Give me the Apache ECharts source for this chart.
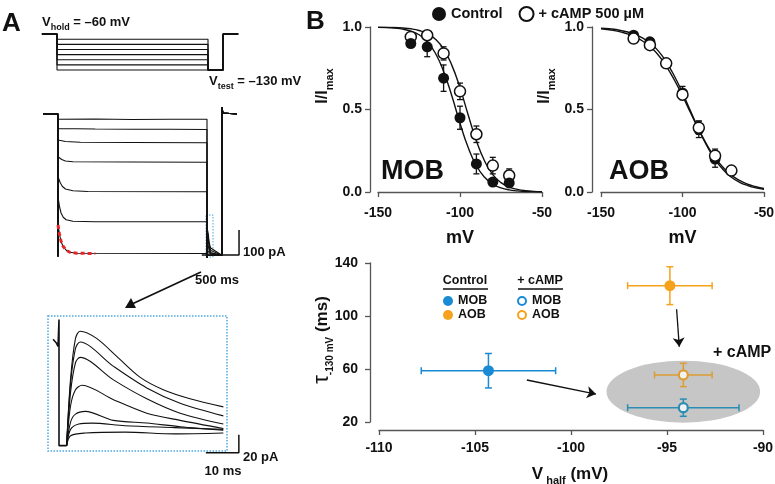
<!DOCTYPE html>
<html>
<head>
<meta charset="utf-8">
<script src="https://cdn.jsdelivr.net/npm/echarts@6/dist/echarts.min.js"></script>
<style>
  html, body { margin: 0; padding: 0; background: #fff; }
  #main { width: 775px; height: 484px; }
</style>
</head>
<body>
<div id="main"></div>
<script>
// ---------- data ----------
// A: voltage protocol (mV) and step timing (ms)
const vHold = -60
const vTest = -130
const stepLevels = [-70, -80, -90, -100, -110, -120, -130]
const stepTimes = [-200, 0, 2000, 2200, 2400]

// A: current traces during the prepulse, [ms, pA]
const trace1 = [[0, -21], [500, -20], [1000, -22], [1500, -21], [2000, -21]]
const trace2 = [[0, -58], [500, -60], [1000, -61], [1500, -61], [2000, -62]]
const trace3 = [[0, -104], [100, -110], [300, -113], [1000, -114], [2000, -115]]
const trace4 = [[0, -171], [50, -182], [100, -188], [200, -191], [1000, -192], [2000, -193]]
const trace5 = [[0, -251], [30, -275], [60, -290], [100, -300], [200, -307], [400, -310], [2000, -311]]
const trace6 = [[0, -331], [20, -370], [40, -395], [70, -413], [110, -423], [200, -429], [500, -431], [2000, -431]]
const trace7 = [[0, -444], [20, -480], [40, -510], [70, -530], [110, -545], [160, -553], [250, -557], [2000, -558]]
const fitTrace7 = [[0, -444], [20, -480], [40, -508], [70, -530], [110, -545], [160, -553], [250, -557], [500, -558]]
const tailBase = -565

// A inset: tail currents at -130 mV, [ms, pA]
const insetJump = [[-1.8, 104], [-0.8, 100], [-0.3, 96], [0, 126], [0, -14], [2.3, -14]]
const tail1 = [[2.3, -14], [3.5, 60], [5, 105], [6.4, 113], [11.4, 105], [17.5, 85], [24.5, 62], [31.6, 48], [39.7, 38], [49.8, 29]]
const tail2 = [[2.3, -14], [3.5, 55], [5, 94], [6.4, 101], [16.5, 74], [26.6, 50], [36.7, 33], [49.8, 19]]
const tail3 = [[2.3, -14], [3.5, 45], [5, 78], [6.4, 84], [16.5, 59], [26.6, 38], [36.7, 22], [49.8, 10]]
const tail4 = [[2.3, -14], [3.5, 30], [5, 48], [7, 53], [16.5, 37], [26.6, 22], [36.7, 14], [49.8, 5]]
const tail5 = [[2.3, -14], [3.5, 12], [5, 21], [8, 24], [16.5, 14], [26.6, 11], [36.7, 7], [49.8, 3]]
const tail6 = [[2.3, -14], [3.5, 4], [6, 10], [10, 11], [20, 8], [35, 6], [49.8, 4]]
const tail7 = [[2.3, -14], [3.5, -3], [8, 0], [20, 1], [35, -1], [49.8, 0]]

// scale bars
const scaleBarMain = [[1930, -564], [2430, -564], [2430, -464]]
const scaleBarInset = [[44.5, -22], [54.5, -22], [54.5, -2]]

// B: activation curves (I/Imax)
const vSteps = [-130, -120, -110, -100, -90, -80, -70]
const mobCtrl = [0.90, 0.88, 0.69, 0.45, 0.17, 0.06, 0.055]
const mobCtrlErr = [0.02, 0.06, 0.08, 0.07, 0.06, 0.02, 0.02]
const mobCamp = [0.94, 0.95, 0.84, 0.61, 0.35, 0.16, 0.10]
const mobCampErr = [0.02, 0.01, 0.04, 0.05, 0.05, 0.05, 0.04]
const aobCtrl = [0.95, 0.91, 0.78, 0.60, 0.38, 0.20, 0.13]
const aobCtrlErr = [0.02, 0.02, 0.02, 0.04, 0.05, 0.05, 0.02]
const aobCamp = [0.93, 0.89, 0.78, 0.59, 0.39, 0.22, 0.13]
const aobCampErr = [0.02, 0.02, 0.02, 0.03, 0.04, 0.04, 0.02]

// fitted curves, read every 5 mV from -150 to -50
const fitV = [-150, -145, -140, -135, -130, -125, -120, -115, -110, -105, -100, -95, -90, -85, -80, -75, -70, -65, -60, -55, -50]
const fitMobCtrl = [0.998, 0.997, 0.993, 0.987, 0.975, 0.953, 0.911, 0.841, 0.731, 0.583, 0.417, 0.269, 0.159, 0.089, 0.047, 0.025, 0.013, 0.007, 0.003, 0.002, 0.001]
const fitMobCamp = [0.999, 0.998, 0.997, 0.994, 0.989, 0.979, 0.961, 0.926, 0.866, 0.769, 0.631, 0.467, 0.31, 0.188, 0.105, 0.057, 0.03, 0.016, 0.008, 0.004, 0.002]
const fitAobCtrl = [0.993, 0.989, 0.983, 0.973, 0.958, 0.936, 0.903, 0.857, 0.789, 0.703, 0.601, 0.489, 0.378, 0.279, 0.196, 0.135, 0.089, 0.059, 0.039, 0.025, 0.016]
const fitAobCamp = [0.989, 0.983, 0.975, 0.962, 0.944, 0.918, 0.881, 0.832, 0.763, 0.679, 0.583, 0.479, 0.378, 0.286, 0.208, 0.148, 0.102, 0.07, 0.047, 0.032, 0.021]

// B bottom: tau vs V half, [MOB, AOB]
const vhalfCtrl = [-104.3, -94.85]
const vhalfCtrlErr = [3.5, 2.2]
const tauCtrl = [58.7, 122.9]
const tauCtrlErr = [13, 14.3]
const vhalfCamp = [-94.15, -94.15]
const vhalfCampErr = [2.9, 1.5]
const tauCamp = [30.8, 55.5]
const tauCampErr = [6.5, 8.8]
const campEllipse = [-94.15, 42.9, 4.0, 23.4]   // cx, cy, rx, ry
const arrowMob = [[-102.3, 51.7], [-98.7, 41.1]]
const arrowAob = [[-94.5, 105.1], [-94.36, 76.8]]

// ---------- helpers ----------
const FONT = '"Liberation Sans", Arial, sans-serif'
const AX = '#555'
const BLUE = '#1a8ad4', ORANGE = '#f6a21d', TEAL = '#2b8db3', GOLD = '#dd9d35'

const zip = (xs, ys) => xs.map((x, i) => [x, ys[i]])

function errItem(color, cap, lw) {
  return function (params, api) {
    const x = api.value(0), y = api.value(1), ex = api.value(2), ey = api.value(3)
    const st = { stroke: color, lineWidth: lw, fill: null }
    const kids = []
    if (ey > 0) {
      const t = api.coord([x, y + ey]), b = api.coord([x, y - ey])
      kids.push({ type: 'line', shape: { x1: t[0], y1: t[1], x2: b[0], y2: b[1] }, style: st })
      kids.push({ type: 'line', shape: { x1: t[0] - cap, y1: t[1], x2: t[0] + cap, y2: t[1] }, style: st })
      kids.push({ type: 'line', shape: { x1: b[0] - cap, y1: b[1], x2: b[0] + cap, y2: b[1] }, style: st })
    }
    if (ex > 0) {
      const l = api.coord([x - ex, y]), r = api.coord([x + ex, y])
      kids.push({ type: 'line', shape: { x1: l[0], y1: l[1], x2: r[0], y2: r[1] }, style: st })
      kids.push({ type: 'line', shape: { x1: l[0], y1: l[1] - cap, x2: l[0], y2: l[1] + cap }, style: st })
      kids.push({ type: 'line', shape: { x1: r[0], y1: r[1] - cap, x2: r[0], y2: r[1] + cap }, style: st })
    }
    return { type: 'group', children: kids }
  }
}

function hiddenAxis(min, max) {
  return { type: 'value', show: false, min: min, max: max, splitLine: { show: false } }
}

function shownX(min, max, interval, offset, name, nameGap) {
  return {
    type: 'value', min: min, max: max, interval: interval, offset: offset,
    axisLine: { lineStyle: { color: AX, width: 1.3 } },
    axisTick: { length: 5, lineStyle: { color: AX, width: 1.3 } },
    axisLabel: { fontSize: 14, fontWeight: 'bold', fontFamily: FONT, color: '#111', margin: 7, showMinLabel: true, showMaxLabel: true },
    splitLine: { show: false },
    name: name, nameLocation: 'middle', nameGap: nameGap,
    nameTextStyle: { fontSize: 18, fontWeight: 'bold', fontFamily: FONT, color: '#111' }
  }
}

const lineBlack = { color: '#111', width: 1.1 }

// ---------- series ----------
const series = []

// protocol
stepLevels.forEach(function (lv) {
  series.push({
    type: 'line', xAxisIndex: 0, yAxisIndex: 0, showSymbol: false, silent: true,
    lineStyle: lineBlack,
    data: [[stepTimes[0], vHold], [stepTimes[1], vHold], [stepTimes[1], lv], [stepTimes[2], lv],
           [stepTimes[2], vTest], [stepTimes[3], vTest], [stepTimes[3], vHold], [stepTimes[4], vHold]]
  })
})

// traces
const prepulse = [trace1, trace2, trace3, trace4, trace5, trace6, trace7]
const tails = [tail1, tail2, tail3, tail4, tail5, tail6, tail7]
prepulse.forEach(function (tr, i) {
  const tailPts = tails[i].map(p => [stepTimes[2] + p[0], tailBase + p[1]])
  const pts = [[stepTimes[0], 0], [0, 0], [0, -570]].concat(tr)
    .concat([[stepTimes[2], -575]]).concat(tailPts)
    .concat([[stepTimes[3], tailBase], [stepTimes[3], 28], [2215, 4], [stepTimes[4], 0]])
  series.push({
    type: 'line', xAxisIndex: 1, yAxisIndex: 1, showSymbol: false, silent: true,
    lineStyle: { color: '#111', width: 1.1 }, data: pts
  })
})
series.push({
  type: 'line', xAxisIndex: 1, yAxisIndex: 1, showSymbol: false, silent: true, z: 5,
  lineStyle: { color: '#e8262a', width: 3, type: [4, 3] }, data: fitTrace7
})
series.push({
  type: 'line', xAxisIndex: 1, yAxisIndex: 1, showSymbol: false, silent: true,
  lineStyle: { color: '#111', width: 1.5 }, data: scaleBarMain
})

// inset
series.push({
  type: 'line', xAxisIndex: 2, yAxisIndex: 2, showSymbol: false, silent: true,
  lineStyle: { color: '#111', width: 1.6 }, data: insetJump
})
tails.forEach(function (tr) {
  series.push({
    type: 'line', xAxisIndex: 2, yAxisIndex: 2, showSymbol: false, silent: true, smooth: 0.3,
    lineStyle: { color: '#111', width: 1.1 }, data: tr
  })
})
series.push({
  type: 'line', xAxisIndex: 2, yAxisIndex: 2, showSymbol: false, silent: true,
  lineStyle: { color: '#111', width: 1.5 }, data: scaleBarInset
})

// activation curves
function activationSeries(ax, ctrl, ctrlErr, camp, campErr, fitC, fitA, campOnTop) {
  const list = []
  list.push({ type: 'line', xAxisIndex: ax, yAxisIndex: ax, showSymbol: false, smooth: true, silent: true,
    lineStyle: { color: '#111', width: 1.4 }, data: zip(fitV, fitC), z: 1 })
  list.push({ type: 'line', xAxisIndex: ax, yAxisIndex: ax, showSymbol: false, smooth: true, silent: true,
    lineStyle: { color: '#111', width: 1.4 }, data: zip(fitV, fitA), z: 1 })
  list.push({ type: 'custom', xAxisIndex: ax, yAxisIndex: ax, renderItem: errItem('#111', 3, 1.3), z: 2,
    encode: { x: 0, y: 1 }, data: vSteps.map((v, i) => [v, ctrl[i], 0, ctrlErr[i]]) })
  list.push({ type: 'custom', xAxisIndex: ax, yAxisIndex: ax, renderItem: errItem('#111', 3, 1.3), z: 2,
    encode: { x: 0, y: 1 }, data: vSteps.map((v, i) => [v, camp[i], 0, campErr[i]]) })
  const c = { name: 'Control', type: 'scatter', xAxisIndex: ax, yAxisIndex: ax, symbolSize: 11,
    itemStyle: { color: '#111', opacity: 1 }, data: zip(vSteps, ctrl), z: campOnTop ? 3 : 4 }
  const a = { name: '+ cAMP 500 µM', type: 'scatter', xAxisIndex: ax, yAxisIndex: ax, symbolSize: 11,
    itemStyle: { color: '#fff', borderColor: '#111', borderWidth: 1.5, opacity: 1 }, data: zip(vSteps, camp), z: campOnTop ? 4 : 3 }
  list.push(c, a)
  return list
}
series.push(...activationSeries(3, mobCtrl, mobCtrlErr, mobCamp, mobCampErr, fitMobCtrl, fitMobCamp, false))
series.push(...activationSeries(4, aobCtrl, aobCtrlErr, aobCamp, aobCampErr, fitAobCtrl, fitAobCamp, true))

// tau vs V half
series.push({
  type: 'custom', xAxisIndex: 5, yAxisIndex: 5, z: 1, silent: true, encode: { x: 0, y: 1 },
  renderItem: function (params, api) {
    const c = api.coord([api.value(0), api.value(1)])
    const e = api.coord([api.value(0) + api.value(2), api.value(1) + api.value(3)])
    const rx = Math.abs(e[0] - c[0]), ry = Math.abs(e[1] - c[1])
    return { type: 'circle', x: c[0], y: c[1], scaleY: ry / rx, shape: { cx: 0, cy: 0, r: rx }, style: { fill: '#c6c6c6' } }
  },
  data: [campEllipse]
})
const tauSets = [
  { vx: vhalfCtrl, ex: vhalfCtrlErr, ty: tauCtrl, ey: tauCtrlErr, colors: [BLUE, ORANGE], open: false },
  { vx: vhalfCamp, ex: vhalfCampErr, ty: tauCamp, ey: tauCampErr, colors: [TEAL, GOLD], open: true }
]
tauSets.forEach(function (s) {
  s.colors.forEach(function (col, i) {
    series.push({ type: 'custom', xAxisIndex: 5, yAxisIndex: 5, z: 2, encode: { x: 0, y: 1 },
      renderItem: errItem(col, 3.5, 1.5), data: [[s.vx[i], s.ty[i], s.ex[i], s.ey[i]]] })
    series.push({ type: 'scatter', xAxisIndex: 5, yAxisIndex: 5, z: 3,
      symbolSize: s.open ? 9 : 11,
      itemStyle: s.open ? { color: '#f2f2f2', borderColor: col, borderWidth: 2.2, opacity: 1 } : { color: col, opacity: 1 },
      data: [[s.vx[i], s.ty[i]]] })
  })
})
series.push({
  type: 'line', xAxisIndex: 5, yAxisIndex: 5, data: [], silent: true,
  markLine: {
    silent: true, symbol: ['none', 'arrow'], symbolSize: 9, label: { show: false },
    lineStyle: { color: '#111', width: 1.3, type: 'solid' },
    data: [
      [{ coord: arrowMob[0] }, { coord: arrowMob[1] }],
      [{ coord: arrowAob[0] }, { coord: arrowAob[1] }]
    ]
  }
})

// ---------- text & frames ----------
function txt(x, y, text, size, align, extra) {
  return Object.assign({
    type: 'text', x: x, y: y, silent: true,
    style: Object.assign({ text: text, fontSize: size, fontWeight: 'bold', fontFamily: FONT, fill: '#111',
      align: align || 'left', verticalAlign: 'middle' }, extra || {})
  })
}
const subRich = function (big, small) {
  return {
    a: { fontSize: big, fontWeight: 'bold', fontFamily: FONT, fill: '#111', lineHeight: big + 8, verticalAlign: 'middle' },
    b: { fontSize: small, fontWeight: 'bold', fontFamily: FONT, fill: '#111', lineHeight: small, verticalAlign: 'bottom' }
  }
}

const graphics = [
  txt(2, 24, 'A', 26),
  txt(306, 22, 'B', 26),
  txt(42, 22, '{a|V}{b|hold}{a| = –60 mV}', 13, 'left', { rich: subRich(13, 9) }),
  txt(209, 81, '{a|V}{b|test}{a| = –130 mV}', 13, 'left', { rich: subRich(13, 9) }),
  txt(243, 252, '100 pA', 13),
  txt(217, 280, '500 ms', 13, 'center'),
  txt(243, 457, '20 pA', 13),
  txt(223, 471, '10 ms', 13, 'center'),
  { type: 'rect', silent: true, shape: { x: 206, y: 215, width: 7, height: 42 },
    style: { fill: null, stroke: '#4aa8e0', lineWidth: 1, lineDash: [1.5, 1.5] } },
  { type: 'rect', silent: true, shape: { x: 48, y: 316, width: 179, height: 135 },
    style: { fill: null, stroke: '#4aa8e0', lineWidth: 1.5, lineDash: [1.5, 1.5] } },
  { type: 'line', silent: true, shape: { x1: 201, y1: 272, x2: 132, y2: 304 }, style: { stroke: '#111', lineWidth: 1.8 } },
  { type: 'polygon', silent: true, shape: { points: [[125, 308], [131, 298], [136, 308]] }, style: { fill: '#111' } },
  // B labels
  Object.assign(txt(323, 86, '{a|I/I}{b|max}', 16, 'center', { rich: subRich(16, 11) }), { rotation: Math.PI / 2 }),
  Object.assign(txt(545, 86, '{a|I/I}{b|max}', 16, 'center', { rich: subRich(16, 11) }), { rotation: Math.PI / 2 }),
  txt(381, 172, 'MOB', 27),
  txt(609, 172, 'AOB', 27),
  txt(713, 353, '+ cAMP', 16),
  Object.assign(txt(322, 340, '{t|τ}{b|-130 mV}{a| (ms)}', 17, 'center', {
    rich: {
      t: { fontSize: 22, fontFamily: FONT, fill: '#111', lineHeight: 26, verticalAlign: 'middle' },
      a: { fontSize: 17, fontWeight: 'bold', fontFamily: FONT, fill: '#111', lineHeight: 26, verticalAlign: 'middle' },
      b: { fontSize: 10, fontWeight: 'bold', fontFamily: FONT, fill: '#111', lineHeight: 10, verticalAlign: 'bottom' }
    }
  }), { rotation: Math.PI / 2 }),
  txt(570, 474, '{a|V}{b| half}{a| (mV)}', 17, 'center', { rich: subRich(17, 11) }),
  // inner legend of the tau plot
  txt(465, 281, 'Control', 12.5, 'center'),
  txt(540, 281, '+ cAMP', 12.5, 'center'),
  { type: 'line', silent: true, shape: { x1: 443, y1: 289, x2: 488, y2: 289 }, style: { stroke: '#111', lineWidth: 1.3 } },
  { type: 'line', silent: true, shape: { x1: 518, y1: 289, x2: 563, y2: 289 }, style: { stroke: '#111', lineWidth: 1.3 } },
  { type: 'circle', silent: true, shape: { cx: 448, cy: 301, r: 5 }, style: { fill: BLUE } },
  { type: 'circle', silent: true, shape: { cx: 448, cy: 315, r: 5 }, style: { fill: ORANGE } },
  { type: 'circle', silent: true, shape: { cx: 522, cy: 301, r: 4 }, style: { fill: '#fff', stroke: BLUE, lineWidth: 2 } },
  { type: 'circle', silent: true, shape: { cx: 522, cy: 315, r: 4 }, style: { fill: '#fff', stroke: ORANGE, lineWidth: 2 } },
  txt(458, 301, 'MOB', 12.5),
  txt(458, 315, 'AOB', 12.5),
  txt(532, 301, 'MOB', 12.5),
  txt(532, 315, 'AOB', 12.5)
]

// ---------- option ----------
const gridBase = { containLabel: false, outerBoundsMode: 'none', show: false }
const option = {
  animation: false,
  backgroundColor: '#fff',
  textStyle: { fontFamily: FONT },
  legend: {
    left: 427, top: 1, itemWidth: 14, itemHeight: 14, itemGap: 16, selectedMode: false,
    textStyle: { fontSize: 14.5, fontWeight: 'bold', fontFamily: FONT, color: '#111' },
    data: [{ name: 'Control', icon: 'circle' }, { name: '+ cAMP 500 µM', icon: 'circle' }]
  },
  grid: [
    Object.assign({ left: 41.9, top: 28.9, width: 196.3, height: 46.3 }, gridBase),
    Object.assign({ left: 43.1, top: 104, width: 208.6, height: 160 }, gridBase),
    Object.assign({ left: 45.8, top: 315.9, width: 198, height: 139.6 }, gridBase),
    Object.assign({ left: 378, top: 27, width: 164, height: 165 }, gridBase),
    Object.assign({ left: 601, top: 27, width: 163, height: 165 }, gridBase),
    Object.assign({ left: 379, top: 263, width: 384, height: 159 }, gridBase)
  ],
  xAxis: [
    Object.assign(hiddenAxis(-200, 2400), { gridIndex: 0 }),
    Object.assign(hiddenAxis(-200, 2600), { gridIndex: 1 }),
    Object.assign(hiddenAxis(-4, 56), { gridIndex: 2 }),
    Object.assign(shownX(-150, -50, 50, 7, 'mV', 30), { gridIndex: 3 }),
    Object.assign(shownX(-150, -50, 50, 7, 'mV', 30), { gridIndex: 4 }),
    Object.assign(shownX(-110, -90, 5, 8, '', 30), { gridIndex: 5, axisLabel: { fontSize: 14, fontWeight: 'bold', fontFamily: FONT, color: '#111', margin: 11, showMinLabel: true, showMaxLabel: true } })
  ],
  yAxis: [
    Object.assign(hiddenAxis(-140, -50), { gridIndex: 0 }),
    Object.assign(hiddenAxis(-600, 40), { gridIndex: 1 }),
    Object.assign(hiddenAxis(-25, 130), { gridIndex: 2 }),
    { gridIndex: 3, type: 'value', min: 0, max: 1, interval: 0.5, offset: 8,
      axisLine: { show: true, lineStyle: { color: AX, width: 1.3 } },
      axisTick: { show: true, length: 5, lineStyle: { color: AX, width: 1.3 } },
      axisLabel: { fontSize: 14, fontWeight: 'bold', fontFamily: FONT, color: '#111', margin: 8, formatter: v => v.toFixed(1) },
      splitLine: { show: false } },
    { gridIndex: 4, type: 'value', min: 0, max: 1, interval: 0.5, offset: 9,
      axisLine: { show: true, lineStyle: { color: AX, width: 1.3 } },
      axisTick: { show: true, length: 5, lineStyle: { color: AX, width: 1.3 } },
      axisLabel: { fontSize: 14, fontWeight: 'bold', fontFamily: FONT, color: '#111', margin: 8, formatter: v => v.toFixed(1) },
      splitLine: { show: false } },
    { gridIndex: 5, type: 'value', min: 20, max: 140, interval: 40, offset: 9,
      axisLine: { show: true, lineStyle: { color: AX, width: 1.3 } },
      axisTick: { show: true, length: 5, lineStyle: { color: AX, width: 1.3 }, customValues: [20, 60, 100, 140] },
      axisLabel: { fontSize: 14, fontWeight: 'bold', fontFamily: FONT, color: '#111', margin: 12, customValues: [20, 60, 100, 140] },
      splitLine: { show: false } }
  ],
  series: series,
  graphic: graphics
}

const chart = echarts.init(document.getElementById('main'), null, { renderer: 'canvas' })
chart.setOption(option)
</script>
</body>
</html>
